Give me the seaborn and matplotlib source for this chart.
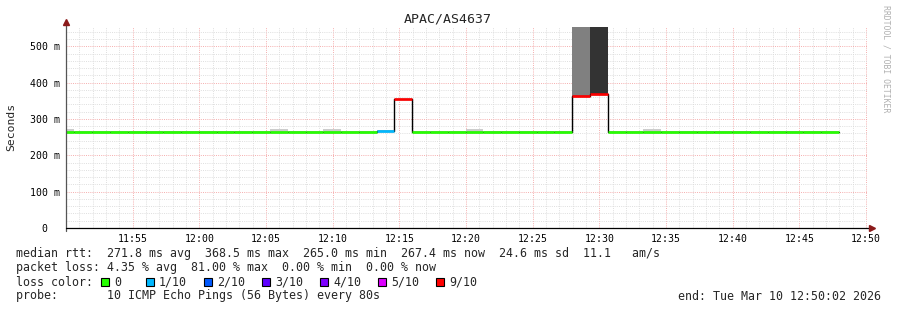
import matplotlib
matplotlib.use("Agg")
import matplotlib.pyplot as plt
import numpy as np
import pandas as pd
import seaborn as sns
from matplotlib.patches import Rectangle

# ---------------- data ----------------
title = "APAC/AS4637"
y_label = "Seconds"
step_seconds = 80
first_step_offset_s = -42          # first sample starts at 11:49:18
median_ms = [265, 265, 265, 265, 265, 265, 265, 265, 265, 265,
             265, 265, 265, 265, 265, 265, 265, 265, 268, 354,
             265, 265, 265, 265, 265, 265, 265, 265, 265, 362.5,
             368.5, 265, 265, 265, 265, 265, 265, 265, 265, 265,
             265, 265, 265, 265]
loss = [0, 0, 0, 0, 0, 0, 0, 0, 0, 0,
        0, 0, 0, 0, 0, 0, 0, 0, 1, 9,
        0, 0, 0, 0, 0, 0, 0, 0, 0, 9,
        9, 0, 0, 0, 0, 0, 0, 0, 0, 0,
        0, 0, 0, 0]
smoke_lo_ms = [265, 265, 265, 265, 265, 265, 265, 265, 265, 265,
               265, 265, 265, 265, 265, 265, 265, 265, 265, 354,
               265, 265, 265, 265, 265, 265, 265, 265, 265, 362.5,
               368.5, 265, 265, 265, 265, 265, 265, 265, 265, 265,
               265, 265, 265, 265]
smoke_hi_ms = [272, 266, 266, 266, 266, 266, 266, 266, 266, 266,
               266, 266, 272, 266, 266, 272, 266, 266, 269, 355,
               266, 266, 266, 272, 266, 266, 266, 266, 266, 600,
               600, 266, 266, 272, 266, 266, 266, 266, 266, 266,
               266, 266, 266, 266]
smoke_density = [2, 2, 2, 2, 2, 2, 2, 2, 2, 2,
                 2, 2, 2, 2, 2, 2, 2, 2, 2, 2,
                 2, 2, 2, 2, 2, 2, 2, 2, 2, 5,
                 8, 2, 2, 2, 2, 2, 2, 2, 2, 2,
                 2, 2, 2, 2]
x_tick_labels = ["11:55", "12:00", "12:05", "12:10", "12:15", "12:20",
                 "12:25", "12:30", "12:35", "12:40", "12:45", "12:50"]
y_ticks_ms = [0, 100, 200, 300, 400, 500]
loss_keys = ["0", "1/10", "2/10", "3/10", "4/10", "5/10", "9/10"]
loss_levels = [0, 1, 2, 3, 4, 5, 9]
loss_colors = ["#26ff00", "#00b8ff", "#0059ff", "#5e00ff", "#7e00ff", "#dd00ff", "#ff0000"]
stats_rtt = "median rtt:  271.8 ms avg  368.5 ms max  265.0 ms min  267.4 ms now  24.6 ms sd  11.1   am/s"
stats_loss = "packet loss: 4.35 % avg  81.00 % max  0.00 % min  0.00 % now"
probe_text = "probe:       10 ICMP Echo Pings (56 Bytes) every 80s"
end_text = "end: Tue Mar 10 12:50:02 2026"
watermark = "RRDTOOL / TOBI OETIKER"

# ---------------- figure ----------------
sns.set_theme(style="white")
plt.rcParams["font.family"] = ["DejaVu Sans Mono", "DejaVu Sans"]
W, H = 897, 310
fig = plt.figure(figsize=(W / 100, H / 100), dpi=100, facecolor="white")
L, R, T, B = 66, 868, 27, 228
ax = fig.add_axes([L / W, 1 - B / H, (R - L) / W, (B - T) / H])
ax.set_facecolor("white")

step_min = step_seconds / 60.0
n = len(median_ms)
starts = first_step_offset_s / 60.0 + np.arange(n) * step_min
ends = starts + step_min
med = np.array(median_ms)

# smoke
shades = [str(1 - d / 10.0) for d in smoke_density]
ax.bar(starts, np.array(smoke_hi_ms) - np.array(smoke_lo_ms), bottom=smoke_lo_ms,
       width=step_min, align="edge", color=shades, linewidth=0, zorder=2)

# black step connectors
df = pd.DataFrame({"t": np.append(starts, ends[-1]), "rtt": np.append(med, med[-1])})
sns.lineplot(data=df, x="t", y="rtt", ax=ax, color="black", lw=1.0,
             drawstyle="steps-post", estimator=None, sort=False, zorder=3)

# coloured median segments
cmap = dict(zip(loss_levels, loss_colors))
seg_colors = [cmap[l] for l in loss]
lc = ax.hlines(med, starts, ends, colors=seg_colors, lw=1.9, zorder=4)
lc.set_capstyle("butt")

ax.set_xlim(0, (R - L) / 800 * 60)
ax.set_ylim(0, 553)

# ticks/grid
tick_pos = [(int(s[:2]) * 60 + int(s[3:])) - (11 * 60 + 50) for s in x_tick_labels]
ax.set_xticks(tick_pos)
ax.set_xticklabels(x_tick_labels)
ax.set_xticks(np.arange(0, 61, 1), minor=True)
ax.set_yticks(y_ticks_ms)
ax.set_yticklabels([("%d m" % v) if v else "0  " for v in y_ticks_ms])
ax.set_yticks(np.arange(0, 553, 20), minor=True)
ax.grid(which="minor", color="#dadada", lw=0.6, ls=(0, (1.2, 1.4)))
ax.grid(which="major", color="#f4a4a4", lw=0.6, ls=(0, (1.2, 1.4)))
ax.set_axisbelow(True)
ax.tick_params(which="both", length=0)
ax.tick_params(axis="x", pad=4.5, labelsize=7.1, colors="black")
ax.tick_params(axis="y", pad=4.5, labelsize=7.1, colors="black")
ax.set_xlabel("")
ax.set_ylabel("")
for s in ax.spines.values():
    s.set_visible(False)

# axes lines + arrows
hgt = B - T
wid = R - L
ax.plot([0, 0], [-3 / hgt, 1 + 4 / hgt], transform=ax.transAxes, color="#555555",
        lw=0.9, clip_on=False, zorder=5)
ax.plot([0, 1 + 2 / wid], [0, 0], transform=ax.transAxes, color="black",
        lw=0.9, clip_on=False, zorder=5)
ax.plot([0], [1 + 5 / hgt], transform=ax.transAxes, marker="^", ms=3.8,
        color="#8b1a1a", clip_on=False, zorder=6)
ax.plot([1 + 4 / wid], [0], transform=ax.transAxes, marker=">", ms=3.8,
        color="#8b1a1a", clip_on=False, zorder=6)

# texts
def ftxt(x, y, s, **kw):
    fig.text(x / W, 1 - y / H, s, **kw)

ftxt(448, 19, title, ha="center", va="center", fontsize=9.5)
ftxt(11, 127, y_label, ha="center", va="center", rotation=90, fontsize=8.2)
ftxt(886, 5, watermark, ha="center", va="top", rotation=270, fontsize=5.9, color="#b0b0b0")

fs = 8.4
ftxt(16, 254, stats_rtt, ha="left", va="center", fontsize=fs)
ftxt(16, 268, stats_loss, ha="left", va="center", fontsize=fs)
ftxt(16, 282, "loss color:", ha="left", va="center", fontsize=fs)
ftxt(16, 296, probe_text, ha="left", va="center", fontsize=fs)
ftxt(881, 296, end_text, ha="right", va="center", fontsize=fs)

sq_x = [101, 146, 204, 262, 320, 378, 436]
for xk, key, col in zip(sq_x, loss_keys, loss_colors):
    fig.patches.append(Rectangle((xk / W, 1 - 286 / H), 8 / W, 8 / H,
                                 transform=fig.transFigure, facecolor=col,
                                 edgecolor="black", lw=0.8))
    ftxt(xk + 13, 282, key, ha="left", va="center", fontsize=fs)

fig.savefig("out.png", dpi=100, facecolor="white")
